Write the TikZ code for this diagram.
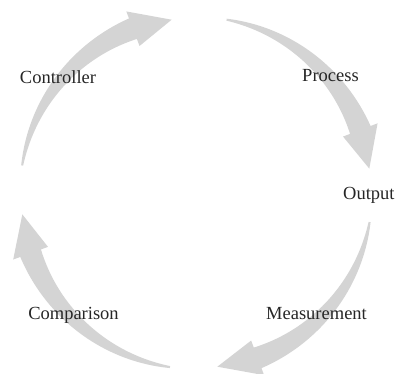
\documentclass[tikz,border=0pt]{standalone}
\usepackage{fontspec}
\setmainfont{Liberation Serif}
\definecolor{arrowgray}{gray}{0.83}
\definecolor{textgray}{gray}{0.15}
\newcommand{\cyclearrow}[3]{%
  \fill[arrowfill]
    plot[domain=#1:#2, samples=60] (\x:{\cycR + (\cwa + (\cwb-\cwa)*((#1)-(\x))/((#1)-(#2)))/2})
    -- (#2:\cycR+\cycH) -- (#3:\cycR-1) -- (#2:\cycR-\cycH)
    -- plot[domain=#2:#1, samples=60] (\x:{\cycR - (\cwa + (\cwb-\cwa)*((#1)-(\x))/((#1)-(#2)))/2})
    -- cycle;}
\begin{document}
\begin{tikzpicture}[x=1pt,y=1pt,
  arrowfill/.style={fill=arrowgray},
  lbl/.style={inner sep=0pt, text=textgray, font=\fontsize{18.5}{20}\selectfont}]
\useasboundingbox (0,0) rectangle (395,373);
\def\cycR{176}
\def\cycH{18.5}
\def\cwa{2}
\def\cwb{22}
\begin{scope}[shift={(196,180)}]
  \cyclearrow{171}{111}{98}
  \cyclearrow{80}{21}{8}
  \cyclearrow{-9.5}{-69.5}{-83}
  \cyclearrow{-98.5}{-160}{-173}
\end{scope}
\node[lbl] (controller) at (58,296) {Controller};
\node[lbl] (process) at (330.5,297) {Process};
\node[lbl, anchor=west] (output) at (343,178) {Output};
\node[lbl] (comparison) at (73.5,58) {Comparison};
\node[lbl] (measurement) at (316.5,59) {Measurement};
\end{tikzpicture}
\end{document}
